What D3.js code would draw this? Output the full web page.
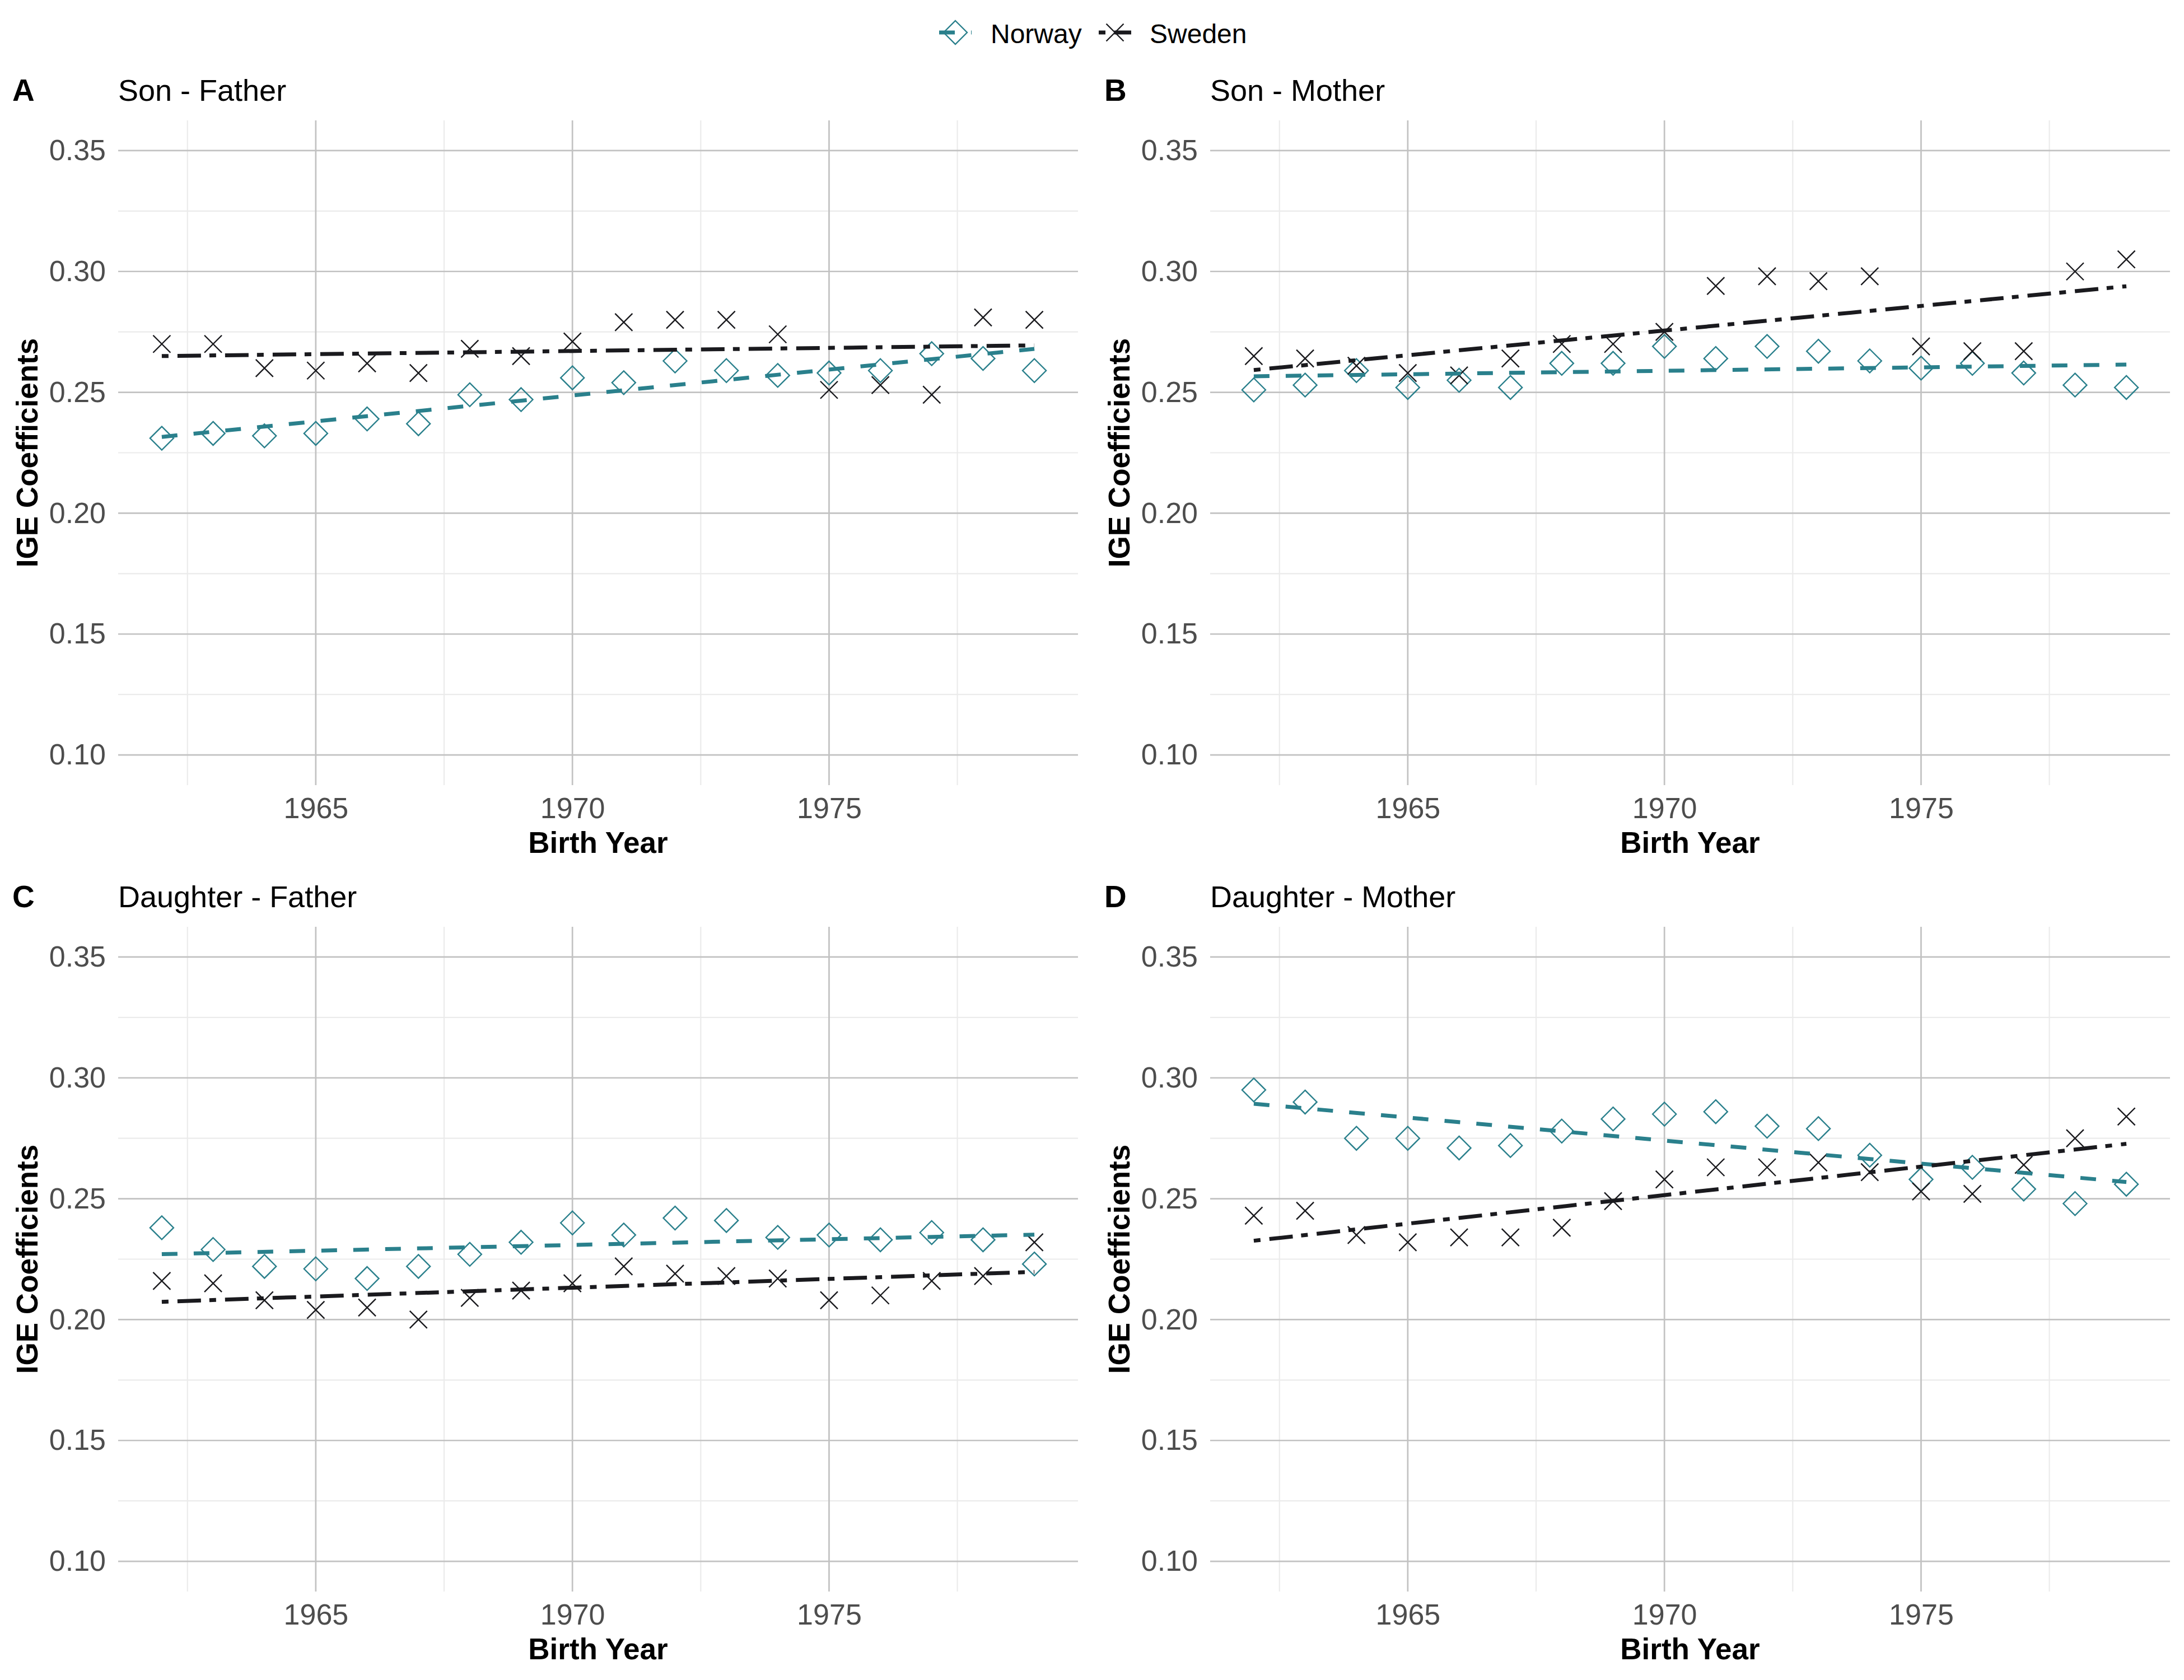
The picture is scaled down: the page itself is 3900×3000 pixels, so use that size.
<!DOCTYPE html>
<html>
<head>
<meta charset="utf-8">
<script src="https://cdn.jsdelivr.net/npm/d3@7"></script>
<style>
  html, body { margin: 0; padding: 0; background: #ffffff; }
  svg { display: block; }
</style>
</head>
<body>
<svg id="chart" width="3900" height="3000"></svg>
<script>
// ---------- DATA ----------
const years = [1962,1963,1964,1965,1966,1967,1968,1969,1970,1971,1972,1973,1974,1975,1976,1977,1978,1979];

const norwaySonFather = [0.231,0.233,0.232,0.233,0.239,0.237,0.249,0.247,0.256,0.254,0.263,0.259,0.257,0.258,0.259,0.266,0.264,0.259];
const swedenSonFather = [0.270,0.270,0.260,0.259,0.262,0.258,0.268,0.265,0.271,0.279,0.280,0.280,0.274,0.251,0.253,0.249,0.281,0.280];

const norwaySonMother = [0.251,0.253,0.259,0.252,0.255,0.252,0.262,0.262,0.269,0.264,0.269,0.267,0.263,0.260,0.262,0.258,0.253,0.252];
const swedenSonMother = [0.265,0.264,0.261,0.258,0.257,0.264,0.270,0.270,0.275,0.294,0.298,0.296,0.298,0.269,0.267,0.267,0.300,0.305];

const norwayDaughterFather = [0.238,0.229,0.222,0.221,0.217,0.222,0.227,0.232,0.240,0.235,0.242,0.241,0.234,0.235,0.233,0.236,0.233,0.223];
const swedenDaughterFather = [0.216,0.215,0.208,0.204,0.205,0.200,0.209,0.212,0.215,0.222,0.219,0.218,0.217,0.208,0.210,0.216,0.218,0.232];

const norwayDaughterMother = [0.295,0.290,0.275,0.275,0.271,0.272,0.278,0.283,0.285,0.286,0.280,0.279,0.268,0.258,0.263,0.254,0.248,0.256];
const swedenDaughterMother = [0.243,0.245,0.235,0.232,0.234,0.234,0.238,0.249,0.258,0.263,0.263,0.265,0.261,0.253,0.252,0.264,0.275,0.284];

const panelTags = ["A","B","C","D"];
const panelTitles = ["Son - Father","Son - Mother","Daughter - Father","Daughter - Mother"];
const seriesNames = ["Norway","Sweden"];
const yTicks = [0.10,0.15,0.20,0.25,0.30,0.35];
const yMinorTicks = [0.125,0.175,0.225,0.275,0.325];
const xTicks = [1965,1970,1975];
const xMinorTicks = [1962.5,1967.5,1972.5,1977.5];
const xTitle = "Birth Year";
const yTitle = "IGE Coefficients";

// ---------- STYLE ----------
const FONT = "'Liberation Sans', Arial, Helvetica, sans-serif";
const TEAL = "#2a808c";
const DARK = "#1a1a1e";
const GRID_MAJOR = "#c2c2c2";
const GRID_MINOR = "#ebebeb";
const DASH_NOR = "28,29";
const DASH_SWE = "12,16,42,15";

const panelW = 1714, panelH = 1187;
const colX = [211, 2161];
const rowY = [215, 1655];

const panels = [
  {nor: norwaySonFather, swe: swedenSonFather},
  {nor: norwaySonMother, swe: swedenSonMother},
  {nor: norwayDaughterFather, swe: swedenDaughterFather},
  {nor: norwayDaughterMother, swe: swedenDaughterMother}
];

const svg = d3.select("#chart");
svg.append("rect").attr("width",3900).attr("height",3000).attr("fill","#fff");

function linFit(xs, ys) {
  const n = xs.length;
  const mx = d3.mean(xs), my = d3.mean(ys);
  let sxy = 0, sxx = 0;
  for (let i = 0; i < n; i++) { sxy += (xs[i]-mx)*(ys[i]-my); sxx += (xs[i]-mx)*(xs[i]-mx); }
  const b = sxy/sxx, a = my - b*mx;
  return x => a + b*x;
}

const diamondPath = (r) => `M0,${-r}L${r},0L0,${r}L${-r},0Z`;
const crossPath = (r) => `M${-r},${-r}L${r},${r}M${-r},${r}L${r},${-r}`;

const xMin = d3.min(years), xMax = d3.max(years);
const xPad = (xMax - xMin) * 0.05;
const yLo = 0.10, yHi = 0.35, yPad = (yHi - yLo) * 0.05;

panels.forEach((p, i) => {
  const col = i % 2, row = Math.floor(i / 2);
  const x0 = colX[col], y0 = rowY[row];
  const g = svg.append("g").attr("transform", `translate(${x0},${y0})`);

  const x = d3.scaleLinear().domain([xMin - xPad, xMax + xPad]).range([0, panelW]);
  const y = d3.scaleLinear().domain([yLo - yPad, yHi + yPad]).range([panelH, 0]);

  // minor grid
  g.selectAll(".ymin").data(yMinorTicks).enter().append("line")
    .attr("x1",0).attr("x2",panelW).attr("y1",d=>y(d)).attr("y2",d=>y(d))
    .attr("stroke",GRID_MINOR).attr("stroke-width",2.2);
  g.selectAll(".xmin").data(xMinorTicks).enter().append("line")
    .attr("y1",0).attr("y2",panelH).attr("x1",d=>x(d)).attr("x2",d=>x(d))
    .attr("stroke",GRID_MINOR).attr("stroke-width",2.2);
  // major grid
  g.selectAll(".ymaj").data(yTicks).enter().append("line")
    .attr("x1",0).attr("x2",panelW).attr("y1",d=>y(d)).attr("y2",d=>y(d))
    .attr("stroke",GRID_MAJOR).attr("stroke-width",2.7);
  g.selectAll(".xmaj").data(xTicks).enter().append("line")
    .attr("y1",0).attr("y2",panelH).attr("x1",d=>x(d)).attr("x2",d=>x(d))
    .attr("stroke",GRID_MAJOR).attr("stroke-width",2.7);

  // axes (labels only, via d3 axis)
  const yAxis = g.append("g").call(d3.axisLeft(y).tickValues(yTicks).tickFormat(d3.format(".2f")).tickSize(0).tickPadding(22));
  yAxis.select(".domain").remove();
  yAxis.selectAll("text").attr("font-family",FONT).attr("font-size",52).attr("fill","#4d4d4d");

  const xAxis = g.append("g").attr("transform",`translate(0,${panelH})`)
    .call(d3.axisBottom(x).tickValues(xTicks).tickFormat(d3.format("d")).tickSize(0).tickPadding(22));
  xAxis.select(".domain").remove();
  xAxis.selectAll("text").attr("font-family",FONT).attr("font-size",52).attr("fill","#4d4d4d");

  // axis titles
  g.append("text").attr("x",panelW/2).attr("y",panelH+121).attr("text-anchor","middle")
    .attr("font-family",FONT).attr("font-size",53).attr("font-weight","bold").attr("fill","#000")
    .text(xTitle);
  g.append("text").attr("transform",`translate(-144,${panelH/2}) rotate(-90)`).attr("text-anchor","middle")
    .attr("font-family",FONT).attr("font-size",53).attr("font-weight","bold").attr("fill","#000")
    .text(yTitle);

  // tag & title
  g.append("text").attr("x",22 - x0 + (col ? 1950 : 0)).attr("y",-35)
    .attr("font-family",FONT).attr("font-size",55).attr("font-weight","bold").attr("fill","#000")
    .text(panelTags[i]);
  g.append("text").attr("x",0).attr("y",-35)
    .attr("font-family",FONT).attr("font-size",54).attr("fill","#000")
    .text(panelTitles[i]);

  // points
  const norPts = years.map((yr,k)=>({yr, v:p.nor[k]}));
  const swePts = years.map((yr,k)=>({yr, v:p.swe[k]}));
  g.selectAll(".nor").data(norPts).enter().append("path")
    .attr("d", diamondPath(21)).attr("transform", d=>`translate(${x(d.yr)},${y(d.v)})`)
    .attr("fill","none").attr("stroke",TEAL).attr("stroke-width",2.4);
  g.selectAll(".swe").data(swePts).enter().append("path")
    .attr("d", crossPath(15.5)).attr("transform", d=>`translate(${x(d.yr)},${y(d.v)})`)
    .attr("fill","none").attr("stroke",DARK).attr("stroke-width",2.4);

  // linear fits
  const fn = linFit(years, p.nor), fs = linFit(years, p.swe);
  const line = d3.line().x(d=>x(d[0])).y(d=>y(d[1]));
  g.append("path").attr("d", line([[xMin, fn(xMin)],[xMax, fn(xMax)]]))
    .attr("fill","none").attr("stroke",TEAL).attr("stroke-width",7).attr("stroke-dasharray",DASH_NOR);
  g.append("path").attr("d", line([[xMin, fs(xMin)],[xMax, fs(xMax)]]))
    .attr("fill","none").attr("stroke",DARK).attr("stroke-width",7).attr("stroke-dasharray",DASH_SWE);
});

// ---------- LEGEND ----------
const leg = svg.append("g");
const legItems = [
  {name: seriesNames[0], kx: 1677, tx: 1769, color: TEAL, dash: DASH_NOR, shape: diamondPath(21)},
  {name: seriesNames[1], kx: 1962, tx: 2053, color: DARK, dash: DASH_SWE, shape: crossPath(15.5)}
];
legItems.forEach(it => {
  leg.append("line").attr("x1",it.kx).attr("x2",it.kx+58).attr("y1",58).attr("y2",58)
    .attr("stroke",it.color).attr("stroke-width",7).attr("stroke-dasharray",it.dash);
  leg.append("path").attr("d",it.shape).attr("transform",`translate(${it.kx+29},58)`)
    .attr("fill","none").attr("stroke",it.color).attr("stroke-width",2.4);
  leg.append("text").attr("x",it.tx).attr("y",77)
    .attr("font-family",FONT).attr("font-size",48).attr("fill","#000").text(it.name);
});
</script>
</body>
</html>
